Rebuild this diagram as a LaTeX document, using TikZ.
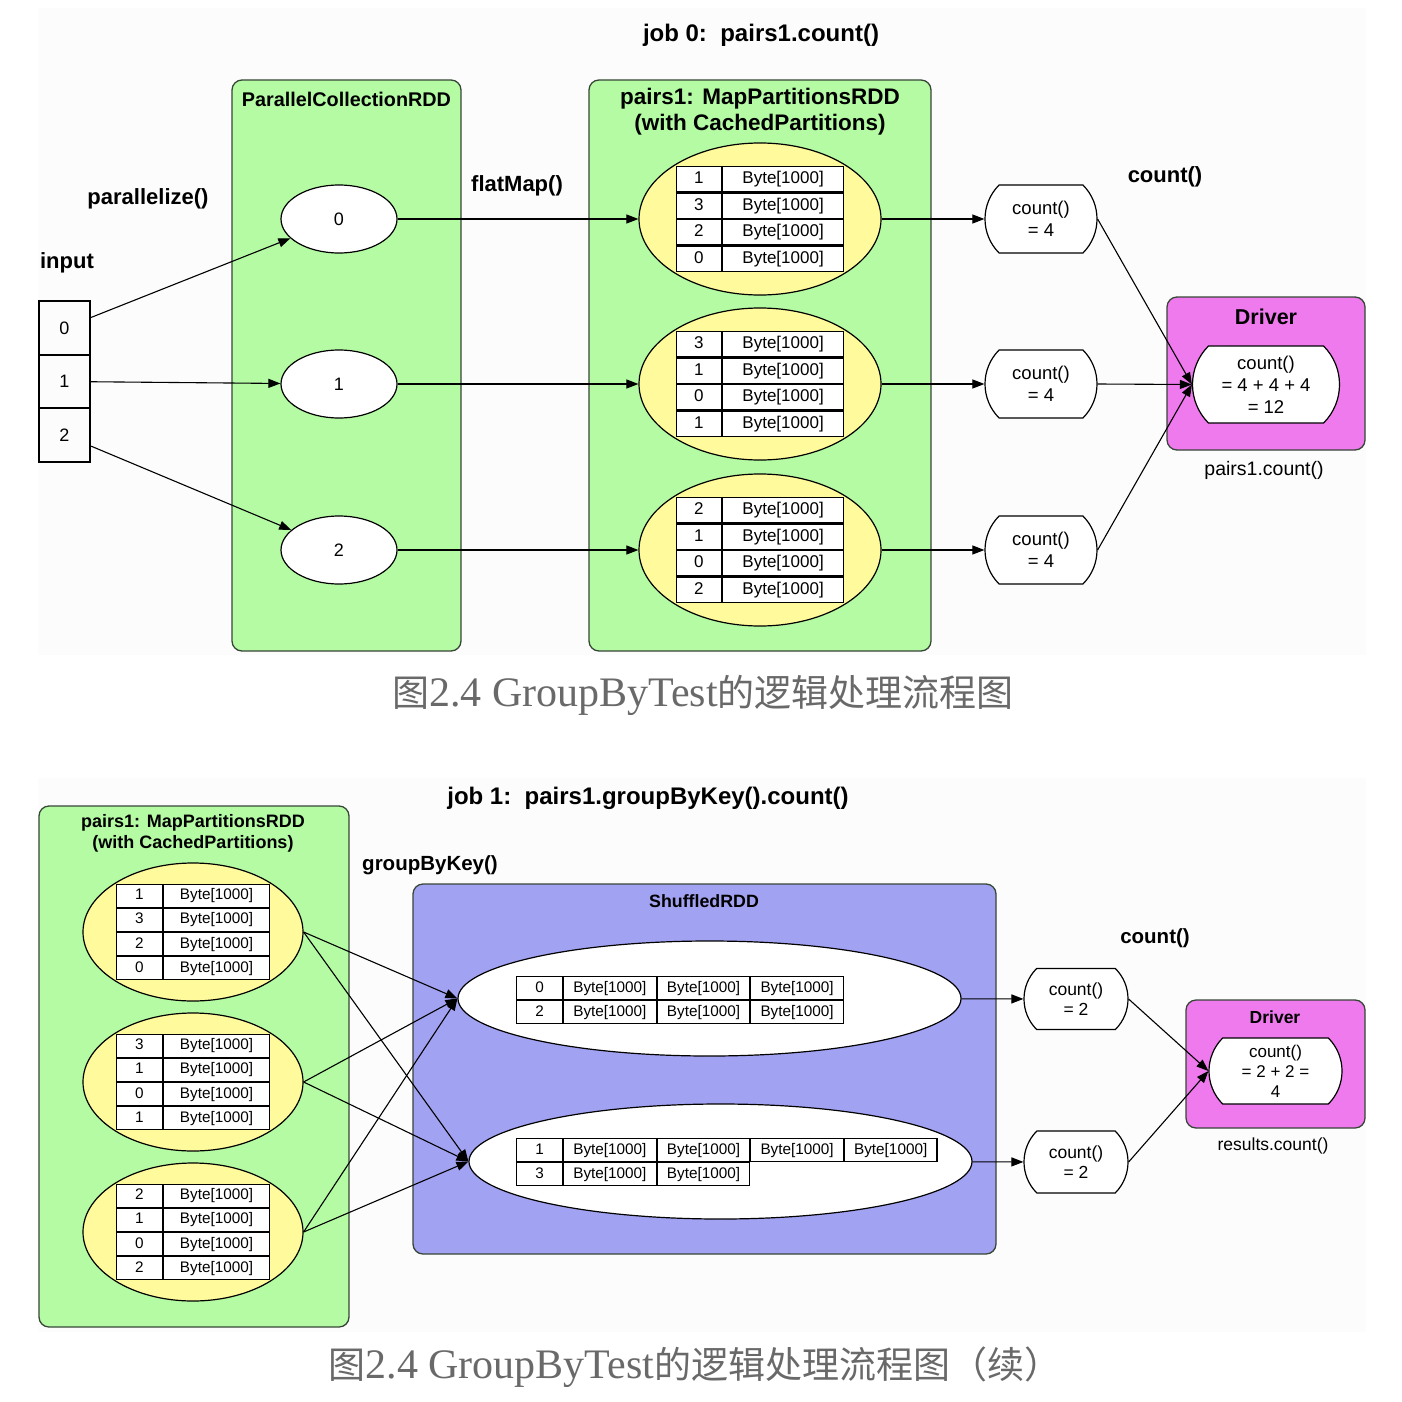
\documentclass[tikz,border=0pt]{standalone}
\usepackage{fontspec}
\setmainfont{Liberation Sans}
\newfontfamily\cjkfont{Noto Sans CJK SC}
\newfontfamily\capfont{Liberation Serif}
\usetikzlibrary{shapes.geometric,shapes.misc,arrows.meta,matrix}
\newcommand\fsz[2]{\fontsize{#1pt}{#2pt}\selectfont}
\definecolor{rddgreen}{RGB}{180,251,164}
\definecolor{boxborder}{RGB}{55,70,55}
\definecolor{partyellow}{RGB}{255,250,155}
\definecolor{drv}{RGB}{238,122,238}
\definecolor{shuf}{RGB}{162,162,242}
\definecolor{capgray}{RGB}{105,105,105}
\tikzset{
  panel/.style={fill=black!1.2, draw=none},
  rddbox/.style={draw=boxborder, line width=1.3pt, fill=rddgreen, rounded corners=10pt},
  shufbox/.style={draw=boxborder, line width=1.3pt, fill=shuf, rounded corners=10pt},
  drvbox/.style={draw=boxborder, line width=1.3pt, fill=drv, rounded corners=10pt},
  jobt/.style={font=\bfseries\fsz{24}{28}},
  lbl/.style={font=\bfseries\fsz{22}{26}},
  lblsm/.style={font=\bfseries\fsz{20.5}{24}},
  inbox/.style={draw, line width=2.4pt, minimum width=51, minimum height=53.5, inner sep=0pt, font=\fsz{18}{21}},
  pce/.style={ellipse, draw, line width=1.2pt, fill=white, minimum width=116, minimum height=68, inner sep=0pt, font=\fsz{18}{21}},
  ypart/.style={ellipse, draw, line width=1.2pt, fill=partyellow, inner sep=0pt},
  wpart/.style={ellipse, draw, line width=1.2pt, fill=white, inner sep=0pt},
  cnt/.style={rounded rectangle, rounded rectangle arc length=90, draw, line width=1.2pt, fill=white, align=center, inner sep=0pt},
  conn/.style={-{Triangle[length=12pt,width=9pt]}, line width=1.1pt},
  tblbase/.style={matrix of nodes, ampersand replacement=\&, inner sep=0pt, outer sep=0pt, column sep=0pt, row sep=0pt},
  tblT/.style={tblbase, nodes={draw, line width=1.2pt, fill=white, anchor=center, inner sep=0pt, outer sep=0pt, minimum height=25.3, text height=12.4, text depth=3.6, font=\fsz{17}{20}},
     column 1/.style={nodes={minimum width=45}}, column 2/.style={nodes={minimum width=121}}},
  tblL/.style={tblbase, nodes={draw, line width=1.1pt, fill=white, anchor=center, inner sep=0pt, outer sep=0pt, minimum height=23, text height=11.2, text depth=3.2, font=\fsz{15.3}{18}},
     column 1/.style={nodes={minimum width=46}}, column 2/.style={nodes={minimum width=106}}},
  tblS/.style={tblbase, nodes={draw, line width=1.1pt, fill=white, anchor=center, inner sep=0pt, outer sep=0pt, minimum height=23, text height=11.2, text depth=3.2, font=\fsz{15.3}{18}, minimum width=92.5},
     column 1/.style={nodes={minimum width=46}}},
}
\begin{document}
\begin{tikzpicture}[x=1pt,y=-1pt]
\useasboundingbox (0,0) rectangle (1402,1402);
\fill[white] (0,0) rectangle (1402,1402);
\path[panel] (38,8) rectangle (1366,655);
\path[panel] (38,778) rectangle (1366,1332);

% ================= job 0 =================
\node[jobt] (job0) at (761,35) {job 0:\ \ pairs1.count()};

\node[rddbox, minimum width=229, minimum height=571] (pc) at (346.5,365.5) {};
\node[rddbox, minimum width=342, minimum height=571] (p1) at (760,365.5) {};
\node[font=\bfseries\fsz{19.8}{23}] (pct) at (346.5,99) {ParallelCollectionRDD};
\node[font=\bfseries\fsz{22.5}{26}, align=center] (p1t) at (760,112) {pairs1: MapPartitionsRDD\\(with CachedPartitions)};

\node[lbl] (lin) at (67,263) {input};
\node[lbl] (lpar) at (148,199) {parallelize()};
\node[lbl] (lflat) at (517,186) {flatMap()};
\node[lbl] (lcnt) at (1165,177) {count()};

\node[inbox] (in0) at (64.5,328) {0};
\node[inbox] (in1) at (64.5,381.5) {1};
\node[inbox] (in2) at (64.5,435) {2};

\node[pce] (e0) at (339,219) {0};
\node[pce] (e1) at (339,384) {1};
\node[pce] (e2) at (339,550) {2};

\node[ypart, minimum width=242, minimum height=152] (y0) at (760,219) {};
\node[ypart, minimum width=242, minimum height=152] (y1) at (760,384) {};
\node[ypart, minimum width=242, minimum height=152] (y2) at (760,550) {};
\matrix[tblT] (t0) at (y0.center) {1 \& Byte[1000]\\ 3 \& Byte[1000]\\ 2 \& Byte[1000]\\ 0 \& Byte[1000]\\};
\matrix[tblT] (t1) at (y1.center) {3 \& Byte[1000]\\ 1 \& Byte[1000]\\ 0 \& Byte[1000]\\ 1 \& Byte[1000]\\};
\matrix[tblT] (t2) at (y2.center) {2 \& Byte[1000]\\ 1 \& Byte[1000]\\ 0 \& Byte[1000]\\ 2 \& Byte[1000]\\};

\node[cnt, minimum width=112, minimum height=68, font=\fsz{18.5}{22}] (c0) at (1041,219) {count()\\= 4};
\node[cnt, minimum width=112, minimum height=68, font=\fsz{18.5}{22}] (c1) at (1041,384) {count()\\= 4};
\node[cnt, minimum width=112, minimum height=68, font=\fsz{18.5}{22}] (c2) at (1041,550) {count()\\= 4};

\node[drvbox, minimum width=198, minimum height=153] (drv) at (1266,373.5) {};
\node[font=\bfseries\fsz{21.5}{25}] (drvt) at (1266,317) {Driver};
\node[cnt, minimum width=147, minimum height=77, font=\fsz{18.5}{22}] (dc) at (1266,384.5) {count()\\= 4 + 4 + 4\\= 12};
\node[font=\fsz{19.5}{23}] (p1c) at (1264,470) {pairs1.count()};

\draw[conn] (in0) -- (e0);
\draw[conn] (in1) -- (e1);
\draw[conn] (in2) -- (e2);
\draw[conn] (e0) -- (y0);
\draw[conn] (e1) -- (y1);
\draw[conn] (e2) -- (y2);
\draw[conn] (y0) -- (c0);
\draw[conn] (y1) -- (c1);
\draw[conn] (y2) -- (c2);
\draw[conn] (c0.east) -- (dc.west);
\draw[conn] (c1.east) -- (dc.west);
\draw[conn] (c2.east) -- (dc.west);

\node[text=capgray] (cap1) at (703,695) {\cjkfont\fsz{37}{42}图\capfont\fsz{42}{46}2.4 GroupByTest\cjkfont\fsz{37}{42}的逻辑处理流程图};

% ================= job 1 =================
\node[jobt] (job1) at (648,798) {job 1:\ \ pairs1.groupByKey().count()};

\node[rddbox, minimum width=310, minimum height=521] (lp) at (194,1066.5) {};
\node[font=\bfseries\fsz{18}{21}, align=center] (lpt) at (193,833.5) {pairs1: MapPartitionsRDD\\(with CachedPartitions)};

\node[ypart, minimum width=220, minimum height=138] (ya) at (193,932) {};
\node[ypart, minimum width=220, minimum height=138] (yb) at (193,1082) {};
\node[ypart, minimum width=220, minimum height=138] (yc) at (193,1232) {};
\matrix[tblL] (ta) at (ya.center) {1 \& Byte[1000]\\ 3 \& Byte[1000]\\ 2 \& Byte[1000]\\ 0 \& Byte[1000]\\};
\matrix[tblL] (tb) at (yb.center) {3 \& Byte[1000]\\ 1 \& Byte[1000]\\ 0 \& Byte[1000]\\ 1 \& Byte[1000]\\};
\matrix[tblL] (tc) at (yc.center) {2 \& Byte[1000]\\ 1 \& Byte[1000]\\ 0 \& Byte[1000]\\ 2 \& Byte[1000]\\};

\node[lblsm] (lgbk) at (430,865) {groupByKey()};

\node[shufbox, minimum width=583, minimum height=370] (sh) at (704.5,1069) {};
\node[font=\bfseries\fsz{17.8}{21}] (sht) at (704,901) {ShuffledRDD};

\node[wpart, minimum width=503, minimum height=115] (wu) at (709.5,998.5) {};
\node[wpart, minimum width=503, minimum height=115] (wl) at (720.5,1161.5) {};
\matrix[tblS, anchor=north west] (tu) at (516,976) {0 \& Byte[1000] \& Byte[1000] \& Byte[1000]\\ 2 \& Byte[1000] \& Byte[1000] \& Byte[1000]\\};
\matrix[tblS, anchor=north west] (tl) at (516,1138) {1 \& Byte[1000] \& Byte[1000] \& Byte[1000] \& Byte[1000]\\ 3 \& Byte[1000] \& Byte[1000]\\};

\node[cnt, minimum width=104, minimum height=61, font=\fsz{17.5}{20}] (cu) at (1076,999) {count()\\= 2};
\node[cnt, minimum width=104, minimum height=62, font=\fsz{17.5}{20}] (cl) at (1076,1162) {count()\\= 2};
\node[lblsm] (lcnt2) at (1155,938) {count()};

\node[drvbox, minimum width=179, minimum height=128] (drv2) at (1275.5,1064) {};
\node[font=\bfseries\fsz{17.5}{21}] (drv2t) at (1275,1017) {Driver};
\node[cnt, minimum width=133, minimum height=66, font=\fsz{17}{20}] (dc2) at (1275.5,1071) {count()\\= 2 + 2 =\\4};
\node[font=\fsz{17.5}{21}] (rc) at (1273,1146) {results.count()};

\draw[conn] (ya.east) -- (wu.west);
\draw[conn] (ya.east) -- (wl.west);
\draw[conn] (yb.east) -- (wu.west);
\draw[conn] (yb.east) -- (wl.west);
\draw[conn] (yc.east) -- (wu.west);
\draw[conn] (yc.east) -- (wl.west);
\draw[conn] (wu) -- (cu);
\draw[conn] (wl) -- (cl);
\draw[conn] (cu.east) -- (dc2.west);
\draw[conn] (cl.east) -- (dc2.west);

\node[text=capgray] (cap2) at (695,1367) {\cjkfont\fsz{37}{42}图\capfont\fsz{42}{46}2.4 GroupByTest\cjkfont\fsz{37}{42}的逻辑处理流程图（续）};
\end{tikzpicture}
\end{document}
